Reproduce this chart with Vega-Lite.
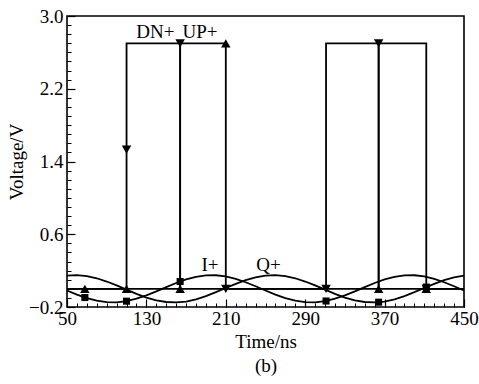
{
  "$schema": "https://vega.github.io/schema/vega-lite/v6.json",
  "width": 397,
  "height": 291,
  "autosize": "none",
  "padding": {"left": 67, "top": 16, "right": 15, "bottom": 77},
  "background": "white",
  "config": {
    "view": {"stroke": "black", "strokeWidth": 1.6},
    "font": "Liberation Serif",
    "axis": {"labelFont": "Liberation Serif", "titleFont": "Liberation Serif", "labelColor": "black", "titleColor": "black", "tickColor": "black", "grid": false, "domain": false, "titleFontWeight": "normal", "labelOverlap": false, "labelBound": false, "labelFlush": false}
  },
  "datasets": {
    "lines": [
      {"s":"DN+","t":50,"v":0,"o":0},{"s":"DN+","t":110,"v":0,"o":1},{"s":"DN+","t":110,"v":2.7,"o":2},{"s":"DN+","t":164,"v":2.7,"o":3},{"s":"DN+","t":164,"v":0,"o":4},{"s":"DN+","t":311,"v":0,"o":5},{"s":"DN+","t":311,"v":2.7,"o":6},{"s":"DN+","t":364,"v":2.7,"o":7},{"s":"DN+","t":364,"v":0,"o":8},{"s":"DN+","t":450,"v":0,"o":9},
      {"s":"UP+","t":50,"v":0,"o":0},{"s":"UP+","t":164,"v":0,"o":1},{"s":"UP+","t":164,"v":2.7,"o":2},{"s":"UP+","t":210,"v":2.7,"o":3},{"s":"UP+","t":210,"v":0,"o":4},{"s":"UP+","t":364,"v":0,"o":5},{"s":"UP+","t":364,"v":2.7,"o":6},{"s":"UP+","t":412,"v":2.7,"o":7},{"s":"UP+","t":412,"v":0,"o":8},{"s":"UP+","t":450,"v":0,"o":9},
      {"s":"I+","t":50,"v":-0.019,"o":0},{"s":"I+","t":60,"v":-0.064,"o":1},{"s":"I+","t":70,"v":-0.103,"o":2},{"s":"I+","t":80,"v":-0.131,"o":3},{"s":"I+","t":90,"v":-0.147,"o":4},{"s":"I+","t":100,"v":-0.149,"o":5},{"s":"I+","t":110,"v":-0.136,"o":6},{"s":"I+","t":120,"v":-0.109,"o":7},{"s":"I+","t":130,"v":-0.072,"o":8},{"s":"I+","t":140,"v":-0.028,"o":9},
      {"s":"I+","t":150,"v":0.019,"o":10},{"s":"I+","t":160,"v":0.064,"o":11},{"s":"I+","t":170,"v":0.103,"o":12},{"s":"I+","t":180,"v":0.131,"o":13},{"s":"I+","t":190,"v":0.147,"o":14},{"s":"I+","t":200,"v":0.149,"o":15},{"s":"I+","t":210,"v":0.136,"o":16},{"s":"I+","t":220,"v":0.109,"o":17},{"s":"I+","t":230,"v":0.072,"o":18},{"s":"I+","t":240,"v":0.028,"o":19},
      {"s":"I+","t":250,"v":-0.019,"o":20},{"s":"I+","t":260,"v":-0.064,"o":21},{"s":"I+","t":270,"v":-0.103,"o":22},{"s":"I+","t":280,"v":-0.131,"o":23},{"s":"I+","t":290,"v":-0.147,"o":24},{"s":"I+","t":300,"v":-0.149,"o":25},{"s":"I+","t":310,"v":-0.136,"o":26},{"s":"I+","t":320,"v":-0.109,"o":27},{"s":"I+","t":330,"v":-0.072,"o":28},{"s":"I+","t":340,"v":-0.028,"o":29},
      {"s":"I+","t":350,"v":0.019,"o":30},{"s":"I+","t":360,"v":0.064,"o":31},{"s":"I+","t":370,"v":0.103,"o":32},{"s":"I+","t":380,"v":0.131,"o":33},{"s":"I+","t":390,"v":0.147,"o":34},{"s":"I+","t":400,"v":0.149,"o":35},{"s":"I+","t":410,"v":0.136,"o":36},{"s":"I+","t":420,"v":0.109,"o":37},{"s":"I+","t":430,"v":0.072,"o":38},{"s":"I+","t":440,"v":0.028,"o":39},{"s":"I+","t":450,"v":-0.019,"o":40},
      {"s":"Q+","t":50,"v":0.145,"o":0},{"s":"Q+","t":60,"v":0.150,"o":1},{"s":"Q+","t":70,"v":0.140,"o":2},{"s":"Q+","t":80,"v":0.116,"o":3},{"s":"Q+","t":90,"v":0.080,"o":4},{"s":"Q+","t":100,"v":0.037,"o":5},{"s":"Q+","t":110,"v":-0.009,"o":6},{"s":"Q+","t":120,"v":-0.055,"o":7},{"s":"Q+","t":130,"v":-0.096,"o":8},{"s":"Q+","t":140,"v":-0.127,"o":9},
      {"s":"Q+","t":150,"v":-0.145,"o":10},{"s":"Q+","t":160,"v":-0.150,"o":11},{"s":"Q+","t":170,"v":-0.140,"o":12},{"s":"Q+","t":180,"v":-0.116,"o":13},{"s":"Q+","t":190,"v":-0.080,"o":14},{"s":"Q+","t":200,"v":-0.037,"o":15},{"s":"Q+","t":210,"v":0.009,"o":16},{"s":"Q+","t":220,"v":0.055,"o":17},{"s":"Q+","t":230,"v":0.096,"o":18},{"s":"Q+","t":240,"v":0.127,"o":19},
      {"s":"Q+","t":250,"v":0.145,"o":20},{"s":"Q+","t":260,"v":0.150,"o":21},{"s":"Q+","t":270,"v":0.140,"o":22},{"s":"Q+","t":280,"v":0.116,"o":23},{"s":"Q+","t":290,"v":0.080,"o":24},{"s":"Q+","t":300,"v":0.037,"o":25},{"s":"Q+","t":310,"v":-0.009,"o":26},{"s":"Q+","t":320,"v":-0.055,"o":27},{"s":"Q+","t":330,"v":-0.096,"o":28},{"s":"Q+","t":340,"v":-0.127,"o":29},
      {"s":"Q+","t":350,"v":-0.145,"o":30},{"s":"Q+","t":360,"v":-0.150,"o":31},{"s":"Q+","t":370,"v":-0.140,"o":32},{"s":"Q+","t":380,"v":-0.116,"o":33},{"s":"Q+","t":390,"v":-0.080,"o":34},{"s":"Q+","t":400,"v":-0.037,"o":35},{"s":"Q+","t":410,"v":0.009,"o":36},{"s":"Q+","t":420,"v":0.055,"o":37},{"s":"Q+","t":430,"v":0.096,"o":38},{"s":"Q+","t":440,"v":0.127,"o":39},{"s":"Q+","t":450,"v":0.145,"o":40}
    ],
    "triangles": [
      {"s":"DN+","t":110,"v":1.53},{"s":"DN+","t":164,"v":2.7},{"s":"DN+","t":210,"v":0},{"s":"DN+","t":311,"v":0},{"s":"DN+","t":364,"v":2.7},{"s":"DN+","t":412,"v":0},
      {"s":"UP+","t":68,"v":0},{"s":"UP+","t":110,"v":0},{"s":"UP+","t":164,"v":0},{"s":"UP+","t":210,"v":2.7},{"s":"UP+","t":364,"v":0},{"s":"UP+","t":412,"v":0}
    ],
    "squares": [
      {"s":"I+","t":68,"v":-0.096},{"s":"I+","t":110,"v":-0.136},{"s":"I+","t":164,"v":0.080},{"s":"I+","t":311,"v":-0.134},
      {"s":"Q+","t":364,"v":-0.147},{"s":"Q+","t":412,"v":0.019}
    ],
    "labels": [
      {"label":"DN+","t":139,"v":2.76},{"label":"UP+","t":184,"v":2.76},{"label":"I+","t":194,"v":0.2},{"label":"Q+","t":253,"v":0.2}
    ]
  },
  "layer": [
    {
      "data": {"name": "lines"},
      "mark": {"type": "line", "color": "black", "strokeWidth": 1.8},
      "encoding": {
        "x": {"field": "t", "type": "quantitative", "scale": {"domain": [50, 450], "nice": false, "zero": false},
              "axis": {"orient": "bottom", "values": [50,130,210,290,370,450], "tickSize": -8, "tickWidth": 1.2, "labelFontSize": 19, "labelPadding": 10, "title": ["Time/ns", "(b)"], "titleFontSize": 19, "titlePadding": 4, "titleLineHeight": 24}},
        "y": {"field": "v", "type": "quantitative", "scale": {"domain": [-0.2, 3.0], "nice": false, "zero": false},
              "axis": {"orient": "left", "values": [-0.2,0.6,1.4,2.2,3.0], "format": ".1f", "tickSize": -8, "tickWidth": 1.2, "labelFontSize": 19, "labelPadding": 12, "title": "Voltage/V", "titleFontSize": 19, "titlePadding": 2}},
        "detail": {"field": "s"},
        "order": {"field": "o"}
      }
    },
    {
      "data": {"name": "triangles"},
      "mark": {"type": "point", "filled": true, "color": "black", "opacity": 1, "size": 90},
      "encoding": {
        "x": {"field": "t", "type": "quantitative",
              "axis": {"orient": "bottom", "values": [50,60,70,80,90,100,110,120,130,140,150,160,170,180,190,200,210,220,230,240,250,260,270,280,290,300,310,320,330,340,350,360,370,380,390,400,410,420,430,440,450], "tickSize": -4, "tickWidth": 1, "labels": false, "title": null}},
        "y": {"field": "v", "type": "quantitative",
              "axis": {"orient": "left", "values": [-0.2,-0.1,0,0.1,0.2,0.3,0.4,0.5,0.6,0.7,0.8,0.9,1.0,1.1,1.2,1.3,1.4,1.5,1.6,1.7,1.8,1.9,2.0,2.1,2.2,2.3,2.4,2.5,2.6,2.7,2.8,2.9,3.0], "tickSize": -4, "tickWidth": 1, "labels": false, "title": null}},
        "shape": {"field": "s", "type": "nominal", "scale": {"domain": ["DN+", "UP+"], "range": ["triangle-down", "triangle-up"]}, "legend": null}
      }
    },
    {
      "data": {"name": "squares"},
      "mark": {"type": "square", "filled": true, "color": "black", "opacity": 1, "size": 50},
      "encoding": {
        "x": {"field": "t", "type": "quantitative", "axis": null},
        "y": {"field": "v", "type": "quantitative", "axis": null}
      }
    },
    {
      "data": {"name": "labels"},
      "mark": {"type": "text", "font": "Liberation Serif", "fontSize": 19, "color": "black", "align": "center", "baseline": "alphabetic"},
      "encoding": {
        "x": {"field": "t", "type": "quantitative", "axis": null},
        "y": {"field": "v", "type": "quantitative", "axis": null},
        "text": {"field": "label"}
      }
    }
  ],
  "resolve": {"axis": {"x": "independent", "y": "independent"}}
}
